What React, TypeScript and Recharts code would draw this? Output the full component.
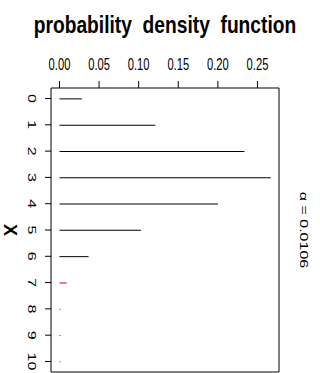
import { Bar, BarChart, Cell, ReferenceArea, XAxis, YAxis } from "recharts";

// binomial-looking pmf, outcome 0..10
const outcomes = [0, 1, 2, 3, 4, 5, 6, 7, 8, 9, 10];
const probabilities = [
  0.0282, 0.1211, 0.2335, 0.2668, 0.2001, 0.1029, 0.0368, 0.009, 0.0014,
  0.00014, 0.000006,
];
const criticalValue = 7; // outcomes from here on are drawn red
const densityTicks = [0, 0.05, 0.1, 0.15, 0.2, 0.25];
const title = "probability  density  function";
const axisName = "X";
const alphaLabel = "α = 0.0106";

const data = outcomes.map((k, i) => ({ k, p: probabilities[i] }));

const SQUEEZE = 0.7;
const FONT = "'Liberation Sans', Arial, Helvetica, sans-serif";

const DensityTick = ({ x, y, payload }: any) => (
  <g transform={`translate(${x},${y - 11})`}>
    <text
      transform={`scale(${SQUEEZE},1)`}
      textAnchor="middle"
      fontSize={16}
      fontFamily={FONT}
      fill="#000"
    >
      {Number(payload.value).toFixed(2)}
    </text>
  </g>
);

const OutcomeTick = ({ x, y, payload }: any) => (
  <g transform={`translate(${x - 13},${y}) scale(${SQUEEZE},1) rotate(90)`}>
    <text
      textAnchor="middle"
      dominantBaseline="central"
      fontSize={16}
      fontFamily={FONT}
      fill="#000"
    >
      {payload.value}
    </text>
  </g>
);

export default function App() {
  return (
    <div
      style={{
        position: "absolute",
        left: 0,
        top: 0,
        width: 320,
        height: 373,
        background: "#fff",
        fontFamily: FONT,
      }}
    >
      <div
        style={{
          position: "absolute",
          left: 0,
          top: 10,
          width: 330,
          textAlign: "center",
          fontSize: 24,
          fontWeight: "bold",
          lineHeight: "30px",
          whiteSpace: "pre",
          transform: `scale(0.8,1)`,
          transformOrigin: "165px 0",
        }}
      >
        {title}
      </div>
      <div
        style={{
          position: "absolute",
          left: 10,
          top: 230,
          fontSize: 18,
          fontWeight: "bold",
          transform: `translate(-50%,-50%) rotate(90deg)`,
          lineHeight: "20px",
        }}
      >
        {axisName}
      </div>
      <div
        style={{
          position: "absolute",
          left: 303,
          top: 230,
          fontSize: 16,
          whiteSpace: "pre",
          lineHeight: "18px",
          transform: `translate(-50%,-50%) scale(${SQUEEZE},1) rotate(90deg)`,
        }}
      >
        {alphaLabel}
      </div>
      <BarChart
        width={320}
        height={373}
        layout="vertical"
        data={data}
        margin={{ top: 58, right: 41, bottom: 1, left: 0 }}
        style={{ position: "absolute", left: 0, top: 0 }}
      >
        <XAxis
          type="number"
          orientation="top"
          dataKey="p"
          domain={[-0.0107, 0.2772]}
          allowDataOverflow
          ticks={densityTicks}
          height={30}
          axisLine={false}
          tickSize={7}
          tickMargin={0}
          tickLine={{ stroke: "#000" }}
          tick={<DensityTick />}
        />
        <YAxis
          type="number"
          dataKey="k"
          domain={[-0.4, 10.4]}
          allowDataOverflow
          ticks={outcomes}
          interval={0}
          width={51}
          axisLine={false}
          tickSize={6}
          tickMargin={0}
          tickLine={{ stroke: "#000" }}
          tick={<OutcomeTick />}
        />
        <ReferenceArea
          x1={-0.0107}
          x2={0.2772}
          y1={-0.4}
          y2={10.4}
          fill="none"
          stroke="#000"
          ifOverflow="visible"
        />
        <Bar dataKey="p" barSize={1} minPointSize={1} isAnimationActive={false}>
          {data.map((d) => (
            <Cell key={d.k} fill={d.k >= criticalValue ? "#e00000" : "#000"} />
          ))}
        </Bar>
      </BarChart>
    </div>
  );
}
